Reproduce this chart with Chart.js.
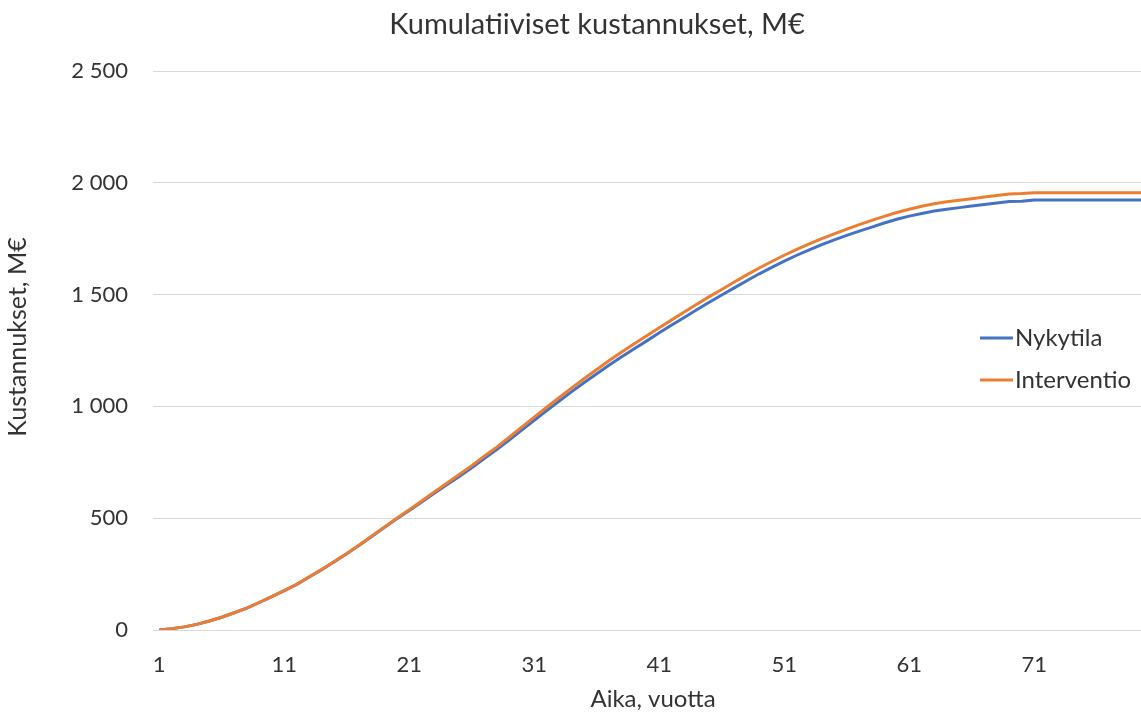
<!DOCTYPE html>
<html>
<head>
<meta charset="utf-8">
<script src="https://cdn.jsdelivr.net/npm/chart.js@4"></script>
<style>
  html, body { margin: 0; padding: 0; background: #fff; overflow: hidden; }
  #wrap { width: 1141px; height: 714px; overflow: hidden; }
</style>
</head>
<body>
<div id="wrap"><canvas id="grafiikka" width="1194" height="714"></canvas></div>
<script>
const vuodet = [1,2,3,4,5,6,7,8,9,10,11,12,13,14,15,16,17,18,19,20,
  21,22,23,24,25,26,27,28,29,30,31,32,33,34,35,36,37,38,39,40,
  41,42,43,44,45,46,47,48,49,50,51,52,53,54,55,56,57,58,59,60,
  61,62,63,64,65,66,67,68,69,70,71,72,73,74,75,76,77,78,79,80];

const nykytila = [0,6,14,25,40,57,77,98,123,149,176,204,237,270,305,341,379,418,458,497,
  534,572,611,649,687,726,767,807,850,894,938,981,1024,1066,1107,1146,1185,1222,1258,1293,
  1329,1364,1398,1432,1466,1498,1530,1562,1593,1622,1650,1676,1700,1723,1745,1765,1784,1802,1820,1837,
  1851,1863,1874,1882,1889,1896,1903,1910,1916,1918,1923,1923,1923,1923,1923,1923,1923,1923,1923,1923];

const interventio = [0,6,14,25,40,57,77,98,123,149,176,204,238,271,306,342,380,420,460,500,
  538,577,617,656,695,735,777,818,862,907,952,996,1040,1083,1125,1165,1205,1243,1280,1316,
  1352,1387,1422,1457,1491,1523,1556,1588,1619,1648,1676,1702,1727,1750,1772,1793,1813,1832,1850,1867,
  1882,1895,1906,1915,1922,1929,1936,1943,1950,1952,1956,1956,1956,1956,1956,1956,1956,1956,1956,1956];

const yTicks = [0, 500, 1000, 1500, 2000, 2500];

const fontti = 'Lato, "Open Sans", sans-serif';
const tekstiVari = '#333333';

function tuhannet(v) {
  if (v >= 1000) return Math.floor(v / 1000) + ' ' + String(v % 1000).padStart(3, '0');
  return String(v);
}

// otsikko, selite ja pystyakselin otsikko piirretään itse
const tekstit = {
  id: 'tekstit',
  afterDraw(chart) {
    const ctx = chart.ctx;
    ctx.save();
    ctx.fillStyle = tekstiVari;
    ctx.textBaseline = 'middle';

    ctx.textAlign = 'center';
    ctx.font = '29px ' + fontti;
    ctx.fillText('Kumulatiiviset kustannukset, M€', 597, 25);

    ctx.textAlign = 'left';
    ctx.font = '24px ' + fontti;
    chart.data.datasets.forEach((ds, i) => {
      const y = 338 + i * 42;
      ctx.strokeStyle = ds.borderColor;
      ctx.lineWidth = 3;
      ctx.beginPath();
      ctx.moveTo(980, y);
      ctx.lineTo(1013, y);
      ctx.stroke();
      ctx.fillText(ds.label, 1015, y);
    });

    ctx.translate(18, 337);
    ctx.rotate(-Math.PI / 2);
    ctx.textAlign = 'center';
    ctx.font = '25px ' + fontti;
    ctx.fillText('Kustannukset, M€', 0, 0);
    ctx.restore();
  }
};

const ctx = document.getElementById('grafiikka').getContext('2d');
new Chart(ctx, {
  type: 'line',
  data: {
    labels: vuodet,
    datasets: [
      {
        label: 'Nykytila',
        data: nykytila,
        borderColor: '#4472C4',
        backgroundColor: '#4472C4',
        borderWidth: 3,
        pointRadius: 0,
        tension: 0,
        order: 1
      },
      {
        label: 'Interventio',
        data: interventio,
        borderColor: '#ED7D31',
        backgroundColor: '#ED7D31',
        borderWidth: 3,
        pointRadius: 0,
        tension: 0,
        order: 0
      }
    ]
  },
  options: {
    responsive: false,
    animation: false,
    layout: { padding: { top: 71, right: 41, left: 0, bottom: 0 } },
    plugins: {
      legend: { display: false },
      tooltip: { enabled: false },
      title: { display: false }
    },
    scales: {
      x: {
        type: 'category',
        offset: true,
        grid: { display: false },
        border: { display: false },
        ticks: {
          autoSkip: false,
          maxRotation: 0,
          padding: 14,
          color: tekstiVari,
          font: { family: fontti, size: 22 },
          callback: function (val, i) { return i % 10 === 0 ? vuodet[i] : ''; }
        },
        title: {
          display: true,
          text: 'Aika, vuotta',
          color: tekstiVari,
          font: { family: fontti, size: 24 },
          padding: { top: 4, bottom: 0 }
        },
        afterFit(scale) { scale.height = 84; }
      },
      y: {
        min: 0,
        max: 2500,
        afterBuildTicks(scale) { scale.ticks = yTicks.map(v => ({ value: v })); },
        grid: { color: '#d9d9d9', lineWidth: 1, drawTicks: false },
        border: { display: false },
        ticks: {
          padding: 25,
          color: tekstiVari,
          font: { family: fontti, size: 22 },
          callback: function (v) { return tuhannet(v); }
        },
        afterFit(scale) { scale.width = 153; }
      }
    }
  },
  plugins: [tekstit]
});
</script>
</body>
</html>
